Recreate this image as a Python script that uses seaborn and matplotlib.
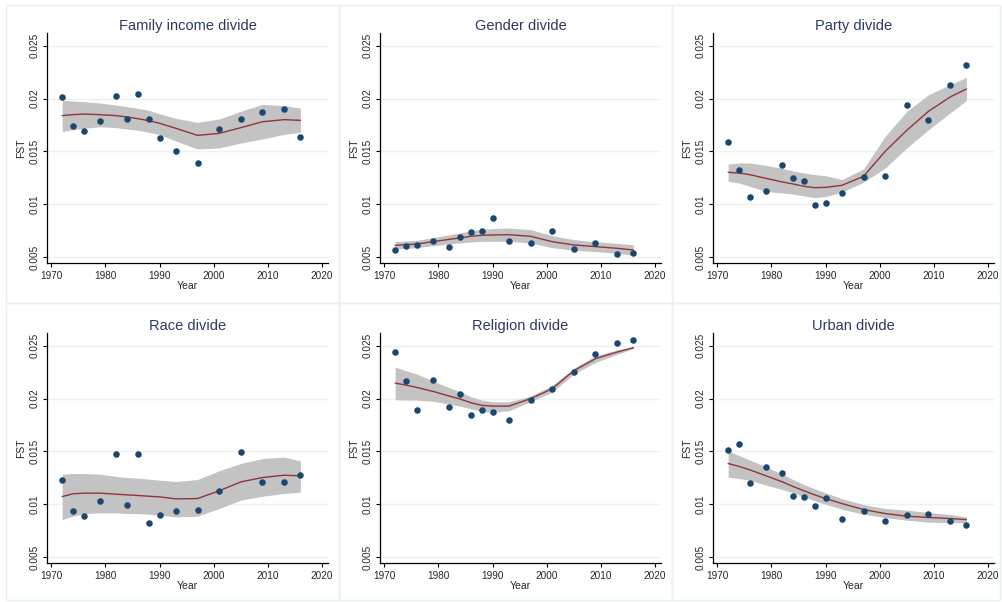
import numpy as np
import pandas as pd
import matplotlib.pyplot as plt
import seaborn as sns
from matplotlib.patches import Rectangle

# estilo parecido com o Stata s2color
sns.set_style('ticks')
plt.rcParams['font.family'] = ['Liberation Sans', 'DejaVu Sans']

years = [1972, 1974, 1976, 1979, 1982, 1984, 1986, 1988, 1990, 1993, 1997, 2001, 2005, 2009, 2013, 2016]
x_ticks = [1970, 1980, 1990, 2000, 2010, 2020]
y_ticks = [0.005, 0.01, 0.015, 0.02, 0.025]
y_tick_labels = ['0.005', '0.01', '0.015', '0.02', '0.025']

# Family income
income_pts = [0.02017, 0.01737, 0.01696, 0.01784, 0.02027, 0.01803, 0.02046, 0.01803,
              0.0163, 0.0150, 0.01386, 0.01708, 0.01806, 0.01872, 0.01904, 0.01632]
income_fit = [0.01838, 0.01847, 0.01853, 0.01847, 0.01838, 0.01825, 0.01809, 0.0179,
              0.01765, 0.01718, 0.01651, 0.0167, 0.01724, 0.01780, 0.018, 0.01793]
income_lo = [0.01686, 0.01705, 0.01718, 0.01733, 0.01724, 0.01711, 0.01699, 0.0168,
             0.01658, 0.01598, 0.01522, 0.01532, 0.01579, 0.01617, 0.01661, 0.0168]
income_hi = [0.01983, 0.01976, 0.0197, 0.01957, 0.01938, 0.01923, 0.01907, 0.01888,
             0.01856, 0.01812, 0.01774, 0.01806, 0.01879, 0.01945, 0.01932, 0.0191]

# Gender
gender_pts = [0.00566, 0.00604, 0.0061, 0.00648, 0.00595, 0.00692, 0.00737, 0.00743,
              0.00869, 0.00648, 0.00632, 0.00743, 0.00579, 0.00635, 0.00532, 0.00538]
gender_fit = [0.0061, 0.00617, 0.00623, 0.00645, 0.00667, 0.0068, 0.00696, 0.00705,
              0.00708, 0.00711, 0.00696, 0.00645, 0.00614, 0.00598, 0.00582, 0.00566]
gender_lo = [0.00575, 0.00582, 0.00588, 0.00607, 0.00623, 0.00633, 0.00642, 0.00648,
             0.00648, 0.00648, 0.00633, 0.00588, 0.00564, 0.00551, 0.00535, 0.00516]
gender_hi = [0.00645, 0.00652, 0.00658, 0.00683, 0.00711, 0.00727, 0.0075, 0.00762,
             0.00768, 0.00774, 0.00759, 0.00702, 0.00664, 0.00645, 0.00629, 0.00616]

# Party
party_pts = [0.01591, 0.0132, 0.01071, 0.01128, 0.01374, 0.01251, 0.01219, 0.00992,
             0.01011, 0.01103, 0.0126, 0.0127, 0.01935, 0.01797, 0.02125, 0.02317]
party_fit = [0.01301, 0.01295, 0.01279, 0.01244, 0.0121, 0.01191, 0.01169, 0.01156,
             0.01159, 0.01178, 0.01263, 0.015, 0.01699, 0.01879, 0.02014, 0.0209]
party_lo = [0.01216, 0.012, 0.01169, 0.01121, 0.01106, 0.01096, 0.01077, 0.01062,
            0.01071, 0.01115, 0.01207, 0.01342, 0.01532, 0.01705, 0.01863, 0.0198]
party_hi = [0.0138, 0.0139, 0.0139, 0.01367, 0.01339, 0.01314, 0.01295, 0.01279,
            0.0127, 0.01232, 0.01333, 0.01642, 0.01879, 0.02036, 0.02131, 0.022]

# Race
race_pts = [0.0123, 0.00937, 0.00889, 0.01034, 0.01473, 0.0099, 0.01471, 0.00826,
            0.00899, 0.00937, 0.00946, 0.01126, 0.01489, 0.01211, 0.01211, 0.01278]
race_fit = [0.01072, 0.01098, 0.01104, 0.01104, 0.01094, 0.01088, 0.01082, 0.01075,
            0.01069, 0.0105, 0.01053, 0.01126, 0.01211, 0.01252, 0.01274, 0.01268]
race_lo = [0.00854, 0.00886, 0.00911, 0.00918, 0.00918, 0.00911, 0.00911, 0.00905,
           0.00895, 0.0088, 0.00886, 0.00959, 0.01038, 0.01075, 0.01101, 0.01113]
race_hi = [0.01284, 0.0129, 0.0129, 0.01284, 0.01262, 0.01252, 0.01246, 0.01237,
           0.01227, 0.01214, 0.01233, 0.01316, 0.01385, 0.01432, 0.01445, 0.0141]

# Religion
religion_pts = [0.0244, 0.02162, 0.01894, 0.02178, 0.01922, 0.02045, 0.01846, 0.01894,
                0.01868, 0.01793, 0.01988, 0.02086, 0.02254, 0.02421, 0.02525, 0.02557]
religion_fit = [0.02146, 0.02127, 0.02105, 0.02067, 0.02023, 0.01995, 0.0196, 0.01935,
                0.01928, 0.01928, 0.01998, 0.02093, 0.02263, 0.02377, 0.0244, 0.02481]
religion_lo = [0.01988, 0.01985, 0.01985, 0.01973, 0.01947, 0.01928, 0.01903, 0.01878,
               0.01871, 0.01884, 0.01969, 0.02061, 0.02232, 0.02342, 0.02418, 0.02472]
religion_hi = [0.02298, 0.02263, 0.02232, 0.02165, 0.02102, 0.02064, 0.02017, 0.01985,
               0.01969, 0.01969, 0.02023, 0.02124, 0.02288, 0.02405, 0.02459, 0.0249]

# Urban
urban_pts = [0.01508, 0.01565, 0.01202, 0.01347, 0.01293, 0.01079, 0.01066, 0.00987,
             0.01057, 0.00858, 0.00937, 0.00842, 0.00902, 0.00905, 0.00842, 0.00801]
urban_fit = [0.01385, 0.01357, 0.01325, 0.01268, 0.01211, 0.01167, 0.01126, 0.01088,
             0.01053, 0.01006, 0.00949, 0.00911, 0.00886, 0.00874, 0.00864, 0.00854]
urban_lo = [0.01255, 0.01243, 0.01227, 0.0118, 0.01139, 0.01107, 0.01069, 0.01031,
            0.01, 0.00952, 0.00905, 0.00873, 0.00848, 0.00829, 0.00826, 0.00823]
urban_hi = [0.01502, 0.01461, 0.01417, 0.01353, 0.01284, 0.01233, 0.01186, 0.01145,
            0.01107, 0.01053, 0.00996, 0.00959, 0.00943, 0.00921, 0.00902, 0.00879]

paineis = [
    ('Family income divide', income_pts, income_fit, income_lo, income_hi),
    ('Gender divide', gender_pts, gender_fit, gender_lo, gender_hi),
    ('Party divide', party_pts, party_fit, party_lo, party_hi),
    ('Race divide', race_pts, race_fit, race_lo, race_hi),
    ('Religion divide', religion_pts, religion_fit, religion_lo, religion_hi),
    ('Urban divide', urban_pts, urban_fit, urban_lo, urban_hi),
]

W, H = 1003, 602
fig = plt.figure(figsize=(W / 100, H / 100), dpi=100)
fig.patch.set_facecolor('white')

# molduras claras dos paineis
col_edges = [6, 339, 672, 1000]
row_edges = [5, 303, 600]
for r in range(2):
    for c in range(3):
        x0, x1 = col_edges[c], col_edges[c + 1]
        y0, y1 = row_edges[r], row_edges[r + 1]
        fig.add_artist(Rectangle((x0 / W, 1 - y1 / H), (x1 - x0) / W, (y1 - y0) / H,
                                 transform=fig.transFigure, fill=False,
                                 edgecolor='#eaf0f2', lw=1.0))

navy = '#1a476f'
title_color = '#2c3a60'
maroon = '#90353b'

for i, (titulo, pts, fit, lo, hi) in enumerate(paineis):
    r, c = divmod(i, 3)
    left = 47 + c * 333
    top = 33 + r * 300
    ax = fig.add_axes([left / W, 1 - (top + 230) / H, 281 / W, 230 / H])

    df = pd.DataFrame({'Year': years, 'FST': pts, 'fit': fit, 'lo': lo, 'hi': hi})

    ax.fill_between(df['Year'], df['lo'], df['hi'], color='#c3c3c3', lw=0, zorder=2)
    sns.lineplot(data=df, x='Year', y='fit', ax=ax, color=maroon, lw=1.0, zorder=3)
    sns.scatterplot(data=df, x='Year', y='FST', ax=ax, color=navy, s=22,
                    edgecolor=navy, linewidth=0, zorder=4)

    ax.set_xlim(1969.2, 2021.1)
    ax.set_ylim(0.00443, 0.0262)
    ax.set_xticks(x_ticks)
    ax.set_yticks(y_ticks)
    ax.set_yticklabels(y_tick_labels, rotation=90, va='center')
    ax.tick_params(axis='both', labelsize=7.2, length=3, width=0.8, direction='out',
                   color='black', pad=2.5)
    ax.yaxis.grid(True, color='#eaf2f3', lw=1.0, zorder=0)
    ax.xaxis.grid(False)
    ax.set_axisbelow(True)

    for lado in ['top', 'right']:
        ax.spines[lado].set_visible(False)
    for lado in ['left', 'bottom']:
        ax.spines[lado].set_color('black')
        ax.spines[lado].set_linewidth(0.9)

    ax.set_xlabel('Year', fontsize=7.5, labelpad=0)
    ax.set_ylabel('FST', fontsize=7.5, labelpad=2)
    ax.set_title(titulo, fontsize=10.5, color=title_color, pad=2.5)

plt.savefig('out.png', dpi=100, facecolor='white')
plt.close()
